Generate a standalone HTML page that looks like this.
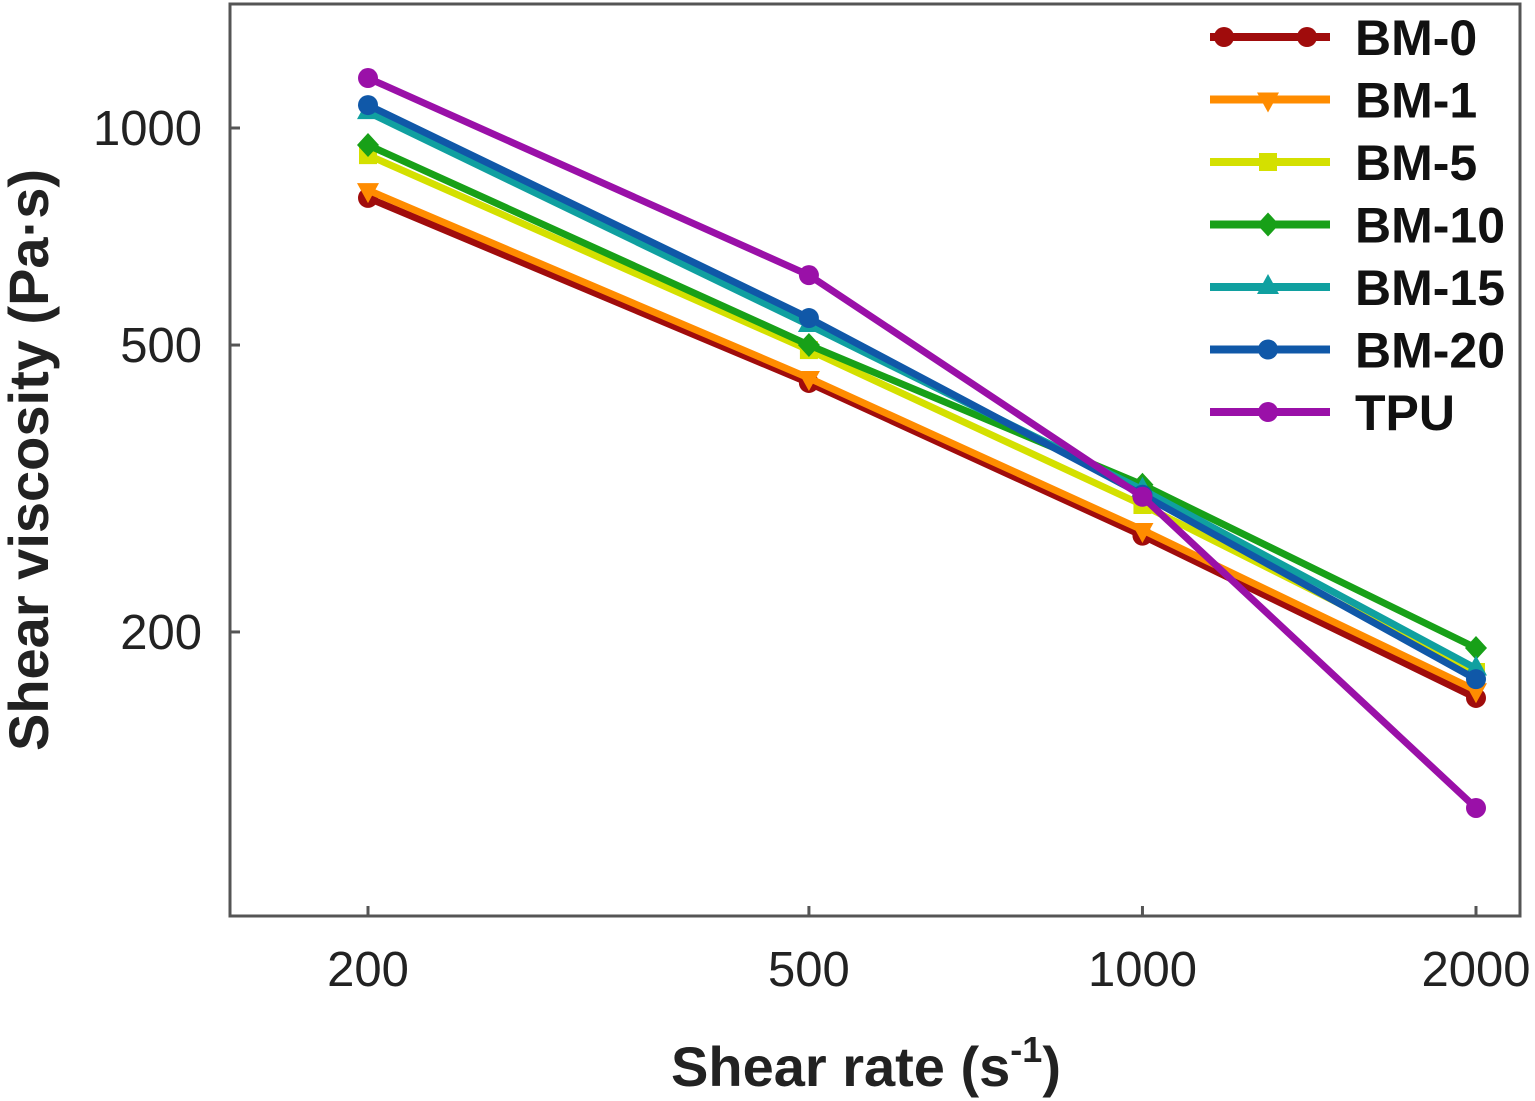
<!DOCTYPE html>
<html><head><meta charset="utf-8"><style>
html,body{margin:0;padding:0;background:#fff;}
svg{display:block;font-family:"Liberation Sans",Arial,sans-serif;}
</style></head><body>
<svg id="chart" width="1535" height="1101" viewBox="0 0 1535 1101" xmlns="http://www.w3.org/2000/svg">
<rect x="230" y="4" width="1290" height="912" fill="none" stroke="#555" stroke-width="3"/>
<g id="xt"></g><g id="yt"></g><g id="series"></g><g id="legend"></g>
<text x="866" y="1086" text-anchor="middle" font-size="56" font-weight="bold" fill="#222">Shear rate (s<tspan font-size="36" dy="-24">-1</tspan><tspan dy="24">)</tspan></text>
<text transform="translate(48,460) rotate(-90)" text-anchor="middle" font-size="56" font-weight="bold" fill="#222">Shear viscosity (Pa·s)</text>
</svg>
<script>
const shearRates = [200, 500, 1000, 2000];
const xTicks = [200, 500, 1000, 2000];
const yTicks = [200, 500, 1000];
const seriesNames = ["BM-0","BM-1","BM-5","BM-10","BM-15","BM-20","TPU"];
const bm0 = [800, 443, 272, 162];
const bm1 = [820, 450, 277, 166];
const bm5 = [917, 492, 300, 176];
const bm10 = [947, 500, 320, 190];
const bm15 = [1052, 533, 315, 178];
const bm20 = [1076, 545, 310, 172];
const tpu = [1173, 625, 308, 114];
const seriesValues = [bm0, bm1, bm5, bm10, bm15, bm20, tpu];
const colors = ["#a00c0c","#ff8c00","#d4e000","#18a018","#10a0a0","#1058a8","#9a10a8"];
const markers = ["circle","tridown","square","diamond","triup","circle","circle"];

const NS = "http://www.w3.org/2000/svg";
function X(v){ return 368 + (Math.log10(v) - Math.log10(200)) * 1108; }
function Y(v){ return 128 + (3 - Math.log10(v)) * 721; }
function el(tag, attrs, parent){ const e=document.createElementNS(NS,tag); for(const k in attrs) e.setAttribute(k,attrs[k]); parent.appendChild(e); return e; }

const xt=document.getElementById('xt');
xTicks.forEach(t=>{
  const l=el('line',{x1:X(t),x2:X(t),y1:916,y2:906,stroke:'#555','stroke-width':3},xt);
  
  
  const tx=el('text',{x:X(t),y:986,'text-anchor':'middle','font-size':49,fill:'#222'},xt);
  tx.textContent=t;
  
  
});
const yt=document.getElementById('yt');
yTicks.forEach(t=>{
  const l=el('line',{x1:230,x2:240,y1:Y(t),y2:Y(t),stroke:'#555','stroke-width':3},yt);
  
  
  const tx=el('text',{x:202,y:Y(t)+17,'text-anchor':'end','font-size':49,fill:'#222'},yt);
  tx.textContent=t;
  
  
});

function marker(type,x,y,c,parent){
  let m;
  if(type==='circle') m=el('circle',{cx:x,cy:y,r:10,fill:c},parent);
  else if(type==='square') m=el('rect',{x:x-9,y:y-9,width:18,height:18,fill:c},parent);
  else if(type==='diamond') m=el('polygon',{points:`${x},${y-12} ${x+11},${y} ${x},${y+12} ${x-11},${y}`,fill:c},parent);
  else if(type==='tridown') m=el('polygon',{points:`${x-11},${y-7} ${x+11},${y-7} ${x},${y+13}`,fill:c},parent);
  else m=el('polygon',{points:`${x-11},${y+7} ${x+11},${y+7} ${x},${y-13}`,fill:c},parent);
  return m;
}

const sg=document.getElementById('series');
seriesValues.forEach((vals,i)=>{
  const g=el('g',{},sg);
  
  
  const pts=vals.map((v,j)=>X(shearRates[j])+','+Y(v)).join(' ');
  el('polyline',{points:pts,fill:'none',stroke:colors[i],'stroke-width':7,'stroke-linejoin':'round'},g);
  vals.forEach((v,j)=>{
    const m=marker(markers[i],X(shearRates[j]),Y(v),colors[i],g);
    
    
  });
});

const lg=document.getElementById('legend');
seriesNames.forEach((n,i)=>{
  const y=37+i*62.5;
  const g=el('g',{},lg);
  
  
  el('line',{x1:1210,x2:1330,y1:y,y2:y,stroke:colors[i],'stroke-width':8},g);
  if(i===0){ marker('circle',1224,y,colors[i],g); marker('circle',1307,y,colors[i],g); }
  else marker(markers[i],1268,y,colors[i],g);
  const t=el('text',{x:1355,y:y+18,'font-size':50,'font-weight':'bold',fill:'#111'},g);
  t.textContent=n;
});
</script>
</body></html>
